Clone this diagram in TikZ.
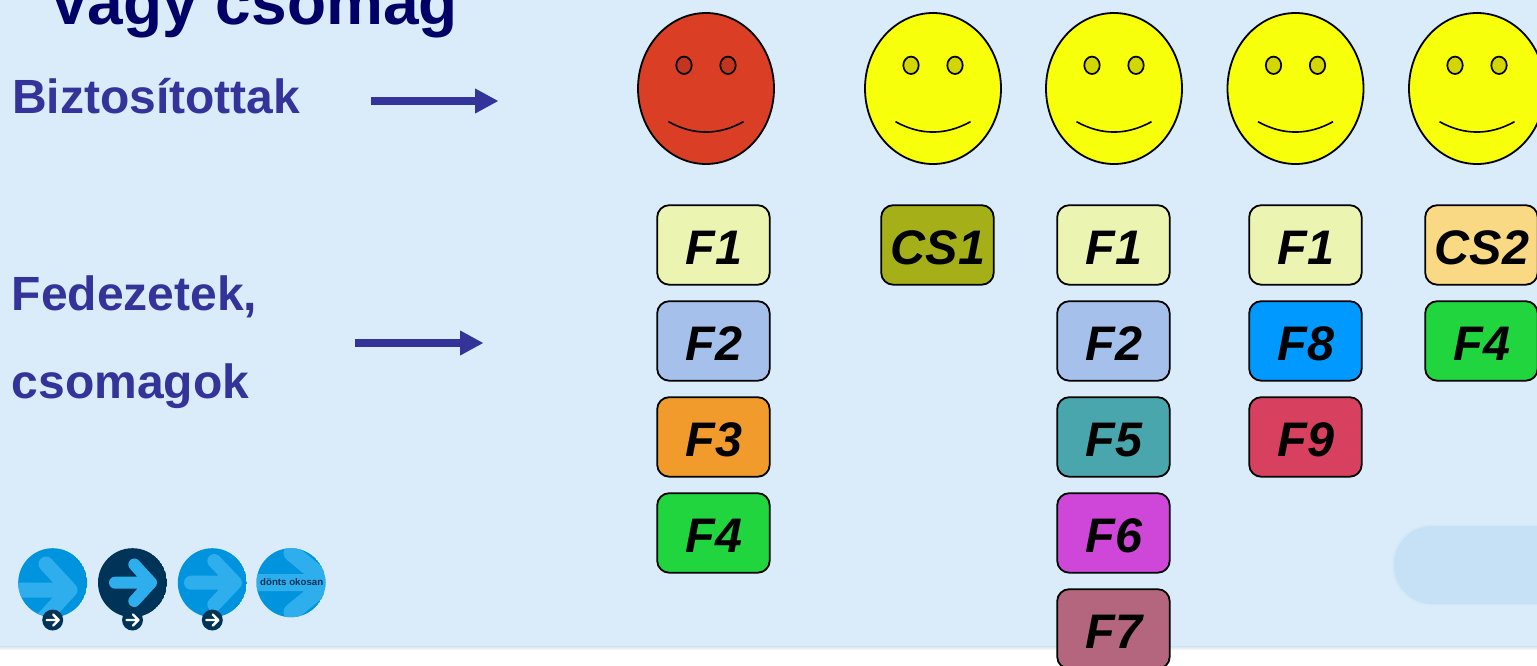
\documentclass[tikz,border=0pt]{standalone}
\usepackage{fontspec}
\setmainfont{Liberation Sans}
\usetikzlibrary{arrows.meta}
\definecolor{bgc}{HTML}{DAECF9}
\definecolor{pillc}{HTML}{C6E1F5}
\definecolor{titlec}{HTML}{000066}
\definecolor{labelc}{HTML}{333399}
\definecolor{facered}{HTML}{DA3F25}
\definecolor{eyered}{HTML}{C23520}
\definecolor{faceyel}{HTML}{F7FF0B}
\definecolor{eyeyel}{HTML}{D3D600}
\definecolor{cf1}{HTML}{ECF4B2}
\definecolor{cf2}{HTML}{A5C0EA}
\definecolor{cf3}{HTML}{F09B2B}
\definecolor{cf4}{HTML}{20D53E}
\definecolor{cf5}{HTML}{48A6AC}
\definecolor{cf6}{HTML}{CF47D8}
\definecolor{cf7}{HTML}{B3667E}
\definecolor{cf8}{HTML}{0099FF}
\definecolor{cf9}{HTML}{D8405F}
\definecolor{ccs1}{HTML}{A5B018}
\definecolor{ccs2}{HTML}{FAD985}
\definecolor{btnblue}{HTML}{0094DE}
\definecolor{btnlight}{HTML}{2EAEEC}
\definecolor{btndark}{HTML}{003358}
\tikzset{
  x=1pt,y=-1pt,
  fed/.style={draw=black,line width=1.8pt,rounded corners=12pt,minimum width=112.5pt,minimum height=79.5pt,inner sep=0pt,anchor=north west,fill=#1},
  fedtext/.style={font=\fontsize{48.5}{48.5}\selectfont\bfseries\itshape,text=black,anchor=base},
  sidelabel/.style={font=\fontsize{48}{48}\selectfont\bfseries,text=labelc,anchor=base west,inner sep=0pt},
  bigarrow/.style={draw=labelc,line width=8pt,-{Triangle[length=23.5pt,width=23.5pt,fill=labelc]}},
  facebody/.style={draw=black,line width=1.8pt,fill=#1},
  eye/.style={draw=black,line width=1.7pt,fill=#1},
  smile/.style={draw=black,line width=1.6pt},
  btnarrow/.style={draw=#1,line cap=round,line join=round},
}
\newcommand{\fedbox}[5]{%
  \node[fed=#4] (#1) at (#2,#3) {};
  \node[fedtext] (#1t) at ([xshift=0.5pt,yshift=-19.5pt]#1.center) {#5};
}
\newcommand{\smface}[4]{%
  \path[facebody=#2] (#1,88.5) ellipse [x radius=68,y radius=75.5];
  \path[eye=#3] (#1-22,65.3) ellipse [x radius=7.7,y radius=8.7];
  \path[eye=#3] (#1+22,65.3) ellipse [x radius=7.7,y radius=8.7];
  \draw[smile] (#1-37.5,121.7) .. controls (#1-12.5,135.5) and (#1+12.5,135.5) .. (#1+37.5,121.7);
}
\newcommand{\minibtn}[1]{%
  \fill[btndark] (#1,620) circle (10.5);
  \draw[white,line width=2.4pt,line cap=round,line join=round] (#1-6,620) -- (#1+6,620) (#1+0.5,614.5) -- (#1+6,620) -- (#1+0.5,625.5);
}
\begin{document}
\begin{tikzpicture}
\useasboundingbox (0,0) rectangle (1537,665);
\clip (0,0) rectangle (1537,665);
\fill[white] (0,0) rectangle (1537,665);
\fill[bgc] (0,0) rectangle (1537,646);
\shade[top color=bgc!90!gray,bottom color=white] (0,646) rectangle (1537,650);
\fill[pillc!30!bgc] (1392,524.5) [rounded corners=39pt] rectangle (1640,605.5);
\fill[pillc] (1394,526) [rounded corners=38pt] rectangle (1640,604);

\node[font=\fontsize{64}{64}\selectfont\bfseries,text=titlec,anchor=base west,inner sep=0pt] (title) at (48.5,24) {Vagy csomag};
\node[sidelabel] (biz) at (12,113) {Biztosítottak};
\node[sidelabel] (fed1) at (11.5,310.5) {Fedezetek,};
\node[sidelabel] (fed2) at (11.5,398.5) {csomagok};

\coordinate (a1s) at (371,101); \coordinate (a1e) at (498.5,101);
\coordinate (a2s) at (355,343); \coordinate (a2e) at (483.5,343);
\draw[bigarrow] (a1s) -- (a1e);
\draw[bigarrow] (a2s) -- (a2e);

\smface{706}{facered}{eyered}{}
\smface{933}{faceyel}{eyeyel}{}
\smface{1114}{faceyel}{eyeyel}{}
\smface{1295.5}{faceyel}{eyeyel}{}
\smface{1477}{faceyel}{eyeyel}{}

\fedbox{aa}{656.3}{204.3}{cf1}{F1}
\fedbox{ab}{656.3}{300.3}{cf2}{F2}
\fedbox{ac}{656.3}{396.3}{cf3}{F3}
\fedbox{ad}{656.3}{492.3}{cf4}{F4}
\fedbox{ba}{880.3}{204.3}{ccs1}{CS1}
\fedbox{ca}{1056.3}{204.3}{cf1}{F1}
\fedbox{cb}{1056.3}{300.3}{cf2}{F2}
\fedbox{cc}{1056.3}{396.3}{cf5}{F5}
\fedbox{cd}{1056.3}{492.3}{cf6}{F6}
\fedbox{ce}{1056.3}{588.3}{cf7}{F7}
\fedbox{da}{1248.3}{204.3}{cf1}{F1}
\fedbox{db}{1248.3}{300.3}{cf8}{F8}
\fedbox{dc}{1248.3}{396.3}{cf9}{F9}
\fedbox{ea}{1424.3}{204.3}{ccs2}{CS2}
\fedbox{eb}{1424.3}{300.3}{cf4}{F4}

% buttons
\begin{scope}
\clip (52.7,582.7) circle (34.5);
\fill[btnblue] (52.7,582.7) circle (34.5);
\draw[btnarrow=btnlight,line width=15pt] (0,590) -- (70,590) (46,564) -- (70,590) -- (44,618);
\end{scope}
\minibtn{52.7}
\begin{scope}
\clip (132.5,582.7) circle (34.5);
\fill[btndark] (132.5,582.7) circle (34.5);
\draw[btnarrow=btnlight,line width=12pt] (115,582.7) -- (151,582.7) (134.3,564.5) -- (151,582.7) -- (134.3,601);
\end{scope}
\minibtn{132.5}
\begin{scope}
\clip (212.3,582.7) circle (34.5);
\fill[btnblue] (212.3,582.7) circle (34.5);
\draw[btnarrow=btnlight,line width=14pt] (191,582.7) -- (235,582.7) (214.3,561) -- (235,582.7) -- (214.3,604.5);
\end{scope}
\minibtn{212.3}
\begin{scope}
\clip (291,582.7) circle (34.5);
\fill[btnblue] (291,582.7) circle (34.5);
\draw[btnarrow=btnlight,line width=17pt] (250,582.7) -- (328,582.7) (292,553) -- (328,582.7) -- (292,612);
\end{scope}
\node[font=\fontsize{9.7}{9.7}\selectfont\bfseries,text=btndark,inner sep=0pt] (dok) at (291.7,582) {dönts okosan};
\end{tikzpicture}
\end{document}
